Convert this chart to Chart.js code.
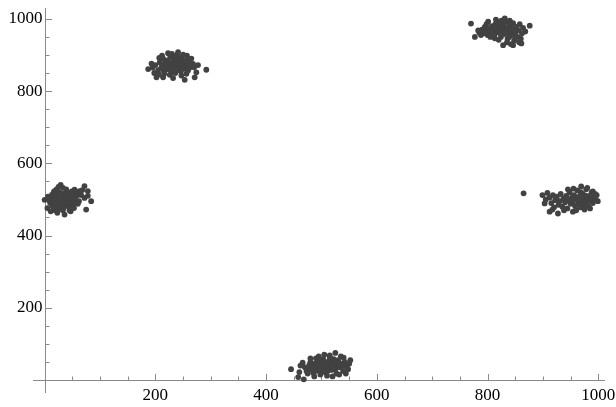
<!DOCTYPE html>
<html>
<head>
<meta charset="utf-8">
<script src="https://cdn.jsdelivr.net/npm/chart.js@4.4.0/dist/chart.umd.min.js"></script>
<style>
  html, body { margin: 0; padding: 0; background: #fff; }
</style>
</head>
<body>
<canvas id="plot" width="616" height="407"></canvas>
<script>
// tick labels
const xTicks = [200, 400, 600, 800, 1000];
const yTicks = [200, 400, 600, 800, 1000];
const labelFont = '17px "Liberation Serif"';

// point clusters, [x, y]
const clusterWest = [
  [0,499],[5,476],[11,467],[23,463],[36,458],[47,467],[54,527],[63,523],[72,537],[78,523],
  [72,504],[84,495],[78,510],[75,472],[29,540],[25,535],[33,532],[10,490],[12,505],[15,515],
  [18,498],[20,480],[22,510],[24,492],[26,520],[28,485],[30,503],[32,495],[34,512],[36,488],
  [38,506],[40,520],[42,497],[44,480],[46,510],[48,492],[50,505],[52,486],[8,498],[14,483],
  [17,522],[19,470],[27,474],[31,517],[35,478],[39,528],[43,515],[45,470],[49,522],[55,498],
  [58,510],[60,488],[21,527],[13,512],[6,508],[16,494],[37,499],[41,484],[53,476],[57,518],
  [62,495],[66,512],[68,526],[26,500],[33,470],[23,517],
  [20,505],[24,485],[29,512],[33,490],[38,515],[42,505],[46,490],[50,514],[16,478],[31,482]
];
const clusterNorthWest = [
  [187,861],[202,838],[214,838],[232,836],[247,843],[253,831],[271,838],[274,852],[292,859],[268,875],
  [223,905],[241,908],[259,889],[195,865],[200,872],[205,858],[208,880],[211,866],[214,890],[217,875],
  [220,860],[222,885],[225,870],[227,895],[229,852],[231,878],[233,865],[235,888],[237,872],[239,900],
  [241,858],[243,880],[245,868],[247,893],[249,875],[251,862],[253,884],[255,870],[257,898],[259,857],
  [261,878],[263,866],[265,890],[198,850],[206,846],[216,848],[226,845],[236,850],[246,855],[256,848],
  [212,898],[230,903],[250,901],[219,882],[228,876],[238,862],[244,884],[252,873],[262,882],[270,866],
  [277,872],[207,892],[193,876],[232,890],[240,876],
  [218,868],[224,878],[234,872],[242,888],[248,866],[258,876],[226,860],[236,895],[215,856],[264,872]
];
const clusterSouth = [
  [445,30],[458,8],[468,2],[475,18],[525,75],[540,62],[552,55],[480,50],[490,60],[505,70],
  [470,35],[473,25],[478,42],[482,30],[485,20],[488,45],[491,35],[494,52],[497,28],[500,40],
  [503,58],[506,22],[509,47],[512,35],[515,62],[518,28],[521,50],[524,40],[527,18],[530,55],
  [533,35],[536,45],[539,25],[542,50],[545,38],[548,30],[462,40],[466,48],[487,10],[498,15],
  [510,12],[520,10],[532,15],[544,18],[495,65],[515,68],[535,65],[480,60],[460,22],[502,32],
  [513,52],[525,30],[490,25],[518,42],[505,48],[528,48],[483,38],[550,45],
  [493,42],[507,35],[516,30],[522,58],[499,52],[531,42],[486,32],[511,25],[540,40],[476,30]
];
const clusterNorthEast = [
  [770,987],[876,981],[777,950],[831,1001],[828,927],[846,927],[861,932],[795,978],[801,992],[813,946],
  [785,962],[788,955],[790,970],[793,960],[797,966],[800,955],[803,972],[806,962],[808,980],[810,968],
  [812,955],[814,985],[816,973],[818,962],[820,990],[822,978],[824,950],[826,968],[828,985],[830,958],
  [832,975],[834,992],[836,945],[838,965],[840,982],[842,955],[844,972],[846,988],[848,940],[850,962],
  [852,978],[854,950],[856,968],[858,985],[860,945],[862,960],[864,975],[835,935],[842,930],[820,942],
  [805,950],[825,995],[840,995],[815,998],[850,948],[857,935],[783,968],[798,985],[818,970],[833,962],
  [846,965],[868,965],
  [826,978],[836,972],[844,960],[830,988],[822,965],[852,970],[812,975],[839,950],[848,980],[808,958]
];
const clusterEast = [
  [865,517],[899,512],[903,489],[912,466],[927,461],[969,536],[990,522],[993,499],[954,466],
  [905,500],[908,518],[912,505],[915,490],[918,512],[920,478],[922,498],[925,508],[928,485],[930,495],
  [932,515],[935,480],[937,502],[940,492],[942,510],[944,475],[946,498],[948,520],[950,488],[952,505],
  [954,495],[956,512],[958,482],[960,500],[962,525],[964,490],[966,508],[968,478],[970,498],[972,515],
  [974,488],[976,505],[978,528],[980,495],[982,482],[984,510],[986,498],[988,520],[990,490],[992,508],
  [995,500],[997,512],[960,470],[975,472],[985,475],[945,528],[955,530],[980,532],[938,470],[917,472],
  [999,495],
  [965,500],[972,492],[978,510],[983,502],[958,508],[948,496],[988,505],[968,520],[976,485],[994,515]
];

const clusters = [clusterWest, clusterNorthWest, clusterSouth, clusterNorthEast, clusterEast];

// axes through the origin, ticks pointing inward, like the original plot
const originAxes = {
  id: 'originAxes',
  beforeDatasetsDraw(chart) {
    const { ctx, chartArea: area, scales: { x, y } } = chart;
    const x0 = Math.round(x.getPixelForValue(0)) + 0.5;
    const y0 = Math.round(y.getPixelForValue(0)) + 0.5;
    ctx.save();
    ctx.strokeStyle = '#8a8a8a';
    ctx.lineWidth = 1;
    ctx.beginPath();
    ctx.moveTo(area.left, y0);
    ctx.lineTo(area.right, y0);
    ctx.moveTo(x0, area.top);
    ctx.lineTo(x0, area.bottom);
    for (let v = 50; v <= 1000; v += 50) {
      const px = Math.round(x.getPixelForValue(v)) + 0.5;
      const lenX = xTicks.includes(v) ? 6.5 : 4;
      ctx.moveTo(px, y0);
      ctx.lineTo(px, y0 - lenX);
      const py = Math.round(y.getPixelForValue(v)) + 0.5;
      const lenY = yTicks.includes(v) ? 6.5 : 4;
      ctx.moveTo(x0, py);
      ctx.lineTo(x0 + lenY, py);
    }
    ctx.stroke();

    ctx.fillStyle = '#000';
    ctx.font = labelFont;
    ctx.textAlign = 'center';
    ctx.textBaseline = 'top';
    xTicks.forEach(v => ctx.fillText(String(v), x.getPixelForValue(v), y0 + 7));
    ctx.textAlign = 'right';
    ctx.textBaseline = 'middle';
    yTicks.forEach(v => ctx.fillText(String(v), x0 - 3, y.getPixelForValue(v)));
    ctx.restore();
  }
};

function drawChart() {
  new Chart(document.getElementById('plot'), {
    type: 'scatter',
    data: {
      datasets: clusters.map(pts => ({
        data: pts.map(p => ({ x: p[0], y: p[1] })),
        backgroundColor: '#424242',
        borderWidth: 0,
        pointRadius: 2.9
      }))
    },
    options: {
      responsive: false,
      animation: false,
      devicePixelRatio: 1,
      layout: { padding: { left: 33, right: 11, top: 8, bottom: 14 } },
      scales: {
        x: { type: 'linear', min: -21, max: 1012, display: false },
        y: { type: 'linear', min: -36, max: 1030, display: false }
      },
      plugins: {
        legend: { display: false },
        tooltip: { enabled: false }
      }
    },
    plugins: [originAxes]
  });
}

// make sure the serif face is ready before the canvas text is drawn
document.fonts.load(labelFont).then(drawChart, drawChart);
</script>
</body>
</html>
